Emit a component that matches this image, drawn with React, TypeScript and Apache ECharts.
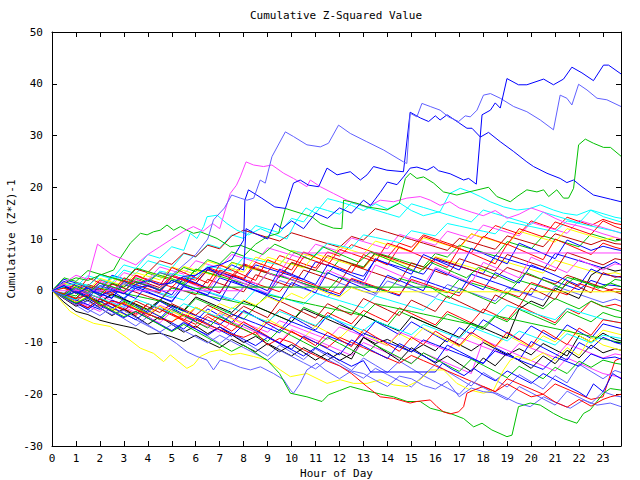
import React, { useEffect, useRef } from "react";
import * as echarts from "echarts";

const TITLE = "Cumulative Z-Squared Value";
const X_NAME = "Hour of Day";
const Y_NAME = "Cumulative (Z*Z)-1";
const X_MIN = 0;
const X_MAX = 23.75;
const Y_MIN = -30;
const Y_MAX = 50;

const COLORS: Record<string, string> = {
  red: "#ff0000",
  green: "#00c000",
  blue: "#0000ff",
  magenta: "#ff40ff",
  cyan: "#00ffff",
  darkred: "#c00000",
  yellow: "#ffff00",
  black: "#000000",
  lightblue: "#6060ff",
};

// half-hour sample times (last sample at 23:45)
const HALF_HOURS: number[] = [
  0, 0.5, 1, 1.5, 2, 2.5, 3, 3.5, 4, 4.5, 5, 5.5, 6, 6.5, 7, 7.5,
  8, 8.5, 9, 9.5, 10, 10.5, 11, 11.5, 12, 12.5, 13, 13.5, 14, 14.5, 15, 15.5,
  16, 16.5, 17, 17.5, 18, 18.5, 19, 19.5, 20, 20.5, 21, 21.5, 22, 22.5, 23, 23.5,
  23.75,
];

// ---- bundle series: values at HALF_HOURS ----
const b01 = [0,1.2,0.5,-0.3,2.1,1.4,0.6,3.0, 2.2,1.5,0.7,2.8,2.0,4.5,3.7,2.9, 5.2,4.4,3.6,6.8,6.0,5.2,4.4,7.5, 6.7,8.9,8.1,7.3,6.5,9.2,8.4,10.8, 10.0,9.2,8.4,11.0,10.2,12.6,11.8,11.0, 13.5,12.7,11.9,14.2,13.4,12.6,13.8,13.0, 12.8];
const b02 = [0,-0.7,-1.4,0.8,0.1,2.6,1.9,1.2, 3.4,2.7,2.0,1.3,4.1,3.4,2.7,5.5, 4.8,4.1,3.4,2.7,5.3,4.6,3.9,3.2, 6.0,5.3,4.6,7.4,6.7,6.0,5.3,4.6, 7.2,6.5,8.8,8.1,7.4,6.7,9.5,8.8, 8.1,10.6,9.9,9.2,8.5,11.0,10.3,9.6, 9.8];
const b03 = [0,2.2,1.5,0.8,0.1,3.0,2.3,1.6, 0.9,0.2,2.8,2.1,1.4,4.2,3.5,2.8, 2.1,5.0,4.3,3.6,2.9,2.2,5.6,4.9, 4.2,3.5,2.8,6.0,5.3,4.6,3.9,3.2, 6.1,5.4,4.7,4.0,3.3,6.8,6.1,5.4, 4.7,4.0,7.2,6.5,5.8,5.1,4.4,5.6, 5.0];
const b04 = [0,0.8,0.1,-0.6,1.8,1.1,3.5,2.8, 2.1,4.6,3.9,3.2,5.8,5.1,4.4,7.0, 6.3,5.6,8.3,7.6,6.9,6.2,9.0,8.3, 7.6,10.2,9.5,8.8,8.1,10.9,10.2,9.5, 8.8,11.5,10.8,10.1,12.7,12.0,11.3,10.6, 13.2,12.5,11.8,11.1,13.6,12.9,12.2,11.5, 11.1];
const b05 = [0,1.5,0.8,2.9,2.2,1.5,4.0,3.3, 5.8,5.1,4.4,7.2,6.5,9.0,8.3,10.8, 10.1,12.6,11.9,11.2,14.0,13.3,16.2,15.5, 14.8,17.0,16.3,15.6,14.9,14.2,16.8,16.1, 15.4,14.7,14.0,13.3,15.6,14.9,14.2,13.5, 12.8,15.2,14.5,13.8,13.1,15.6,14.9,14.2, 14.0];
const b06 = [0,-0.6,1.6,0.9,3.2,2.5,1.8,4.2, 3.5,5.8,5.1,7.3,6.6,8.8,8.1,10.6, 11.7,11.0,10.3,9.6,11.2,10.5,9.8,9.1, 8.4,10.5,9.8,12.0,11.3,10.6,9.9,9.2, 8.5,7.8,10.1,9.4,8.7,8.0,10.6,9.9, 9.2,8.5,11.0,10.3,9.6,8.9,9.8,9.1, 9.0];
const b07 = [0,-1.0,1.2,0.5,-0.2,2.4,1.7,1.0, 3.6,2.9,2.2,4.7,4.0,3.3,2.6,5.4, 4.7,4.0,6.5,5.8,5.1,4.4,7.1,6.4, 5.7,5.0,4.3,6.9,6.2,5.5,4.8,4.1, 6.6,5.9,5.2,4.5,3.8,6.2,5.5,4.8, 4.1,3.4,5.9,5.2,4.5,3.8,3.1,3.5, 3.2];
const b08 = [0,-2.2,-4.0,-4.6,-5.7,-6.3,-6.8,-7.3, -8.4,-8.2,-8.9,-9.8,-8.6,-9.9,-11.0,-9.4, -10.6,-11.8,-10.2,-11.4,-12.6,-11.0,-12.2,-13.4, -12.0,-13.2,-9.0,-10.2,-9.4,-10.6,-11.8,-10.4, -11.6,-9.2,-10.4,-11.6,-10.0,-11.2,-12.4,-11.2, -12.4,-10.2,-11.4,-12.6,-8.7,-9.9,-8.2,-9.4, -9.7];
const b09 = [0,-0.8,-1.6,0.6,-0.2,-1.0,-1.8,1.0, 0.2,-0.6,-1.4,1.3,0.5,-0.3,-1.1,-1.9, 0.8,0.0,-0.8,2.0,1.2,0.4,-0.4,-1.2, 1.5,0.7,-0.1,-0.9,1.9,1.1,0.3,-0.5, -1.3,1.2,0.4,-0.4,-1.2,-2.0,0.6,-0.2, -1.0,-1.8,0.9,0.1,-0.7,-1.5,-2.3,-1.6, -2.0];
const b10 = [0,-1.1,-2.2,-3.3,-1.5,-2.6,-3.7,-4.8, -2.5,-3.6,-4.7,-5.8,-3.2,-4.3,-5.4,-6.5, -4.0,-5.1,-6.2,-3.6,-4.7,-5.8,-6.9,-4.2, -5.3,-6.4,-3.8,-4.9,-6.0,-3.3,-4.4,-5.5, -6.6,-4.0,-5.1,-6.2,-3.5,-4.6,-5.7,-2.9, -4.0,-5.1,-6.2,-3.4,-4.5,-2.0,-3.1,-2.6, -3.0];
const b11 = [0,0.6,-0.4,-1.4,-2.4,-0.8,-1.8,-2.8, -3.8,-2.0,-3.0,-4.0,-1.5,-2.5,-3.5,-4.5, -5.5,-3.0,-4.0,-5.0,-6.0,-3.2,-4.2,-5.2, -2.8,-3.8,-4.8,-5.8,-6.8,-4.0,-5.0,-6.0, -7.0,-4.5,-5.5,-6.5,-7.5,-5.0,-6.0,-3.6, -4.6,-5.6,-6.6,-4.0,-5.0,-6.0,-4.2,-5.0, -5.2];
const b12 = [0,-1.3,0.5,-0.8,-2.1,-3.4,-1.6,-2.9, -4.2,-2.0,-3.3,-4.6,-5.9,-3.5,-4.8,-6.1, -3.8,-5.1,-6.4,-7.7,-5.0,-6.3,-7.6,-4.8, -6.1,-7.4,-8.7,-5.9,-7.2,-8.5,-6.0,-7.3, -8.6,-9.9,-7.1,-8.4,-5.6,-6.9,-8.2,-9.5, -6.8,-8.1,-9.4,-6.6,-7.9,-9.2,-6.4,-7.0, -7.3];
const b13 = [0,-0.9,-1.8,-2.7,-1.0,-1.9,-2.8,-3.7, -4.6,-2.8,-3.7,-4.6,-5.5,-6.4,-4.4,-5.3, -6.2,-7.1,-8.0,-5.8,-6.7,-7.6,-8.5,-9.4, -7.0,-7.9,-8.8,-9.7,-10.6,-8.0,-8.9,-9.8, -10.7,-11.6,-9.0,-9.9,-10.8,-11.7,-12.6,-10.2, -11.1,-12.0,-12.9,-10.3,-11.2,-12.1,-13.0,-12.2, -12.4];
const b14 = [0,-0.7,1.4,0.7,0.0,-0.7,-1.4,1.0, 0.3,-0.4,-1.1,-1.8,0.5,-0.2,-0.9,-1.6, -2.3,0.2,-0.5,-1.2,-1.9,-2.6,-0.5,-1.2, -1.9,-2.6,-3.3,-1.0,-1.7,-2.4,-3.1,-3.8, -1.5,-2.2,-2.9,-3.6,-4.3,-5.0,-2.8,-3.5, -4.2,-4.9,-5.6,-3.4,-4.1,-4.8,-5.5,-6.0, -6.2];
const b15 = [0,1.0,0.2,-0.6,-1.4,1.3,0.5,-0.3, -1.1,-1.9,0.8,0.0,-0.8,2.2,1.4,0.6, -0.2,3.1,2.3,1.5,0.7,4.0,3.2,2.4, 1.6,5.0,4.2,3.4,2.6,1.8,5.4,4.6, 3.8,3.0,6.2,5.4,4.6,3.8,7.0,6.2, 5.4,4.6,3.8,7.4,6.6,5.8,5.0,6.2, 6.0];
const b16 = [0,-1.2,-2.4,-1.0,-2.2,-3.4,-4.6,-2.5, -3.7,-4.9,-6.1,-4.0,-5.2,-6.4,-4.2,-5.4, -6.6,-7.8,-5.5,-6.7,-7.9,-9.1,-6.8,-8.0, -9.2,-7.0,-8.2,-9.4,-10.6,-8.3,-9.5,-7.2, -8.4,-9.6,-10.8,-8.5,-9.7,-10.9,-8.6,-9.8, -11.0,-8.7,-9.9,-7.5,-8.7,-9.9,-7.6,-8.2, -8.5];
const b17 = [0,0.8,-0.2,-1.2,-2.2,-0.6,-1.6,-2.6, -3.6,-1.8,-2.8,-3.8,-1.2,-2.2,-3.2,-4.2, -2.0,-3.0,-4.0,-5.0,-6.0,-3.5,-4.5,-5.5, -6.5,-7.5,-4.8,-5.8,-6.8,-7.8,-5.0,-6.0, -7.0,-8.0,-9.0,-6.2,-7.2,-8.2,-9.2,-3.5, -2.0,-3.0,0.5,-0.5,-1.5,3.0,4.5,3.8, 4.0];
const b18 = [0,-1.4,-2.8,-4.2,-2.6,-4.0,-5.4,-6.8, -5.0,-6.4,-7.8,-6.0,-7.4,-8.8,-10.2,-8.4, -9.8,-11.2,-12.6,-10.5,-11.9,-13.3,-11.2,-12.6, -14.0,-15.4,-13.0,-14.4,-15.8,-13.6,-15.0,-16.4, -14.2,-15.6,-17.0,-18.4,-15.8,-17.2,-18.6,-16.2, -17.6,-19.0,-16.4,-17.8,-14.2,-15.6,-17.0,-15.4, -15.8];
const b19 = [0,-1.0,-2.0,-0.5,-1.5,-2.5,-3.5,-4.5, -2.5,-3.5,-4.5,-5.5,-6.5,-4.5,-5.5,-6.5, -7.5,-8.5,-6.0,-7.0,-8.0,-9.0,-10.0,-11.0, -9.0,-10.0,-11.0,-12.0,-13.0,-14.0,-12.5,-13.5, -14.5,-15.5,-16.5,-17.5,-18.5,-19.5,-17.0,-18.0, -19.0,-20.0,-18.0,-19.0,-20.0,-21.0,-20.5,-13.5, -13.0];
const b20 = [0,-0.5,-1.0,1.0,0.5,0.0,-0.5,-1.0, -1.5,-2.0,0.5,0.0,-0.5,-1.0,-1.5,-2.0, -2.5,-3.0,-0.8,-1.3,-1.8,-2.3,-2.8,-3.3, -3.8,-4.3,-4.8,-2.5,-3.0,-3.5,-4.0,-4.5, -5.0,-5.5,-6.0,-6.5,-7.0,-4.8,-5.3,-5.8, -6.3,-6.8,-7.3,-7.8,-8.3,-8.8,-9.3,-9.8, -10.0];
const b21 = [0,1.8,1.0,0.2,-0.6,-1.4,1.2,0.4, -0.4,-1.2,-2.0,0.8,0.0,-0.8,2.5,1.7, 0.9,0.1,-0.7,3.0,2.2,1.4,0.6,-0.2, -1.0,2.2,1.4,0.6,-0.2,-1.0,2.8,2.0, 1.2,0.4,-0.4,3.2,2.4,1.6,0.8,0.0, -0.8,2.6,1.8,1.0,0.2,2.0,1.2,1.0, 0.8];
const b22 = [0,-1.0,-2.0,-3.0,-4.0,-2.2,-3.2,-4.2, -5.2,-6.2,-4.0,-5.0,-6.0,-7.0,-8.0,-6.0, -7.0,-8.0,-9.0,-10.0,-7.5,-8.5,-9.5,-10.5, -11.5,-12.5,-10.0,-11.0,-12.0,-13.0,-14.0,-12.0, -13.0,-14.0,-15.0,-16.0,-9.5,-10.5,-11.5,-12.5, -13.5,-14.5,-15.5,-13.0,-14.0,-15.0,-16.0,-16.5, -16.8];
const b23 = [0,-0.5,1.6,1.1,0.6,2.8,2.3,1.8, 1.3,3.8,3.3,2.8,2.3,4.8,4.3,3.8, 6.5,6.0,5.5,5.0,7.8,7.3,6.8,9.2, 8.7,8.2,10.8,10.3,9.8,9.3,11.6,11.1, 10.6,13.0,12.5,12.0,11.5,11.0,13.4,12.9, 12.4,11.9,11.4,13.5,13.0,12.5,12.0,11.5, 11.2];
const b24 = [0,0.9,0.1,-0.7,1.5,0.7,-0.1,2.2, 1.4,0.6,3.0,2.2,1.4,4.0,3.2,2.4, 5.0,4.2,3.4,2.6,5.5,4.7,3.9,6.8, 6.0,5.2,4.4,7.3,6.5,5.7,4.9,4.1, 6.4,5.6,4.8,4.0,3.2,2.4,4.5,3.7, 2.9,2.1,1.3,3.0,2.2,1.4,0.6,-0.2, -0.6];
const b25 = [0,1.5,0.8,0.1,2.4,1.7,1.0,3.5, 2.8,2.1,4.6,3.9,3.2,5.7,5.0,4.3, 3.6,6.5,5.8,5.1,7.8,7.1,6.4,5.7, 8.5,7.8,7.1,9.6,8.9,8.2,7.5,10.2, 9.5,8.8,8.1,11.0,10.3,9.6,8.9,11.5, 10.8,10.1,9.4,12.0,11.3,10.6,9.9,10.3, 10.0];
const b26 = [0,-1.5,-3.0,-1.8,-3.3,-4.8,-3.5,-5.0, -6.5,-5.0,-6.5,-8.0,-6.8,-8.3,-7.0,-8.5, -10.0,-8.8,-10.3,-11.8,-10.4,-11.9,-13.4,-12.0, -13.5,-12.2,-9.0,-10.5,-12.0,-13.5,-11.0,-12.5, -14.0,-12.6,-14.1,-15.6,-13.0,-14.5,-12.0,-13.5, -15.0,-12.6,-14.1,-11.5,-13.0,-10.5,-12.0,-11.2, -11.5];
const b27 = [0,-1.2,-2.4,-3.6,-4.8,-3.2,-4.4,-5.6, -6.8,-8.0,-6.5,-7.7,-8.9,-10.1,-8.6,-9.8, -11.0,-12.2,-13.4,-11.5,-12.7,-13.9,-15.1,-13.3, -14.5,-15.7,-16.9,-15.0,-16.2,-17.4,-18.6,-16.4, -17.6,-18.8,-20.0,-17.5,-18.7,-19.9,-21.1,-18.5, -19.7,-20.9,-22.1,-19.4,-20.6,-21.8,-19.5,-20.3, -20.5];
const b28 = [0,-0.8,-1.6,1.2,0.4,-0.4,2.5,1.7, 0.9,0.1,3.0,2.2,1.4,0.6,4.0,3.2, 2.4,5.5,4.7,3.9,3.1,6.5,5.7,4.9, 8.0,7.2,6.4,5.6,9.2,8.4,7.6,10.5, 9.7,8.9,8.1,7.3,10.5,9.7,8.9,12.0, 11.2,10.4,13.3,12.5,11.7,10.9,13.5,12.4, 12.0];
const b29 = [0,2.5,1.8,3.9,3.2,2.5,1.8,4.4, 3.7,3.0,2.3,1.6,4.2,3.5,2.8,2.1, 1.4,0.7,3.5,2.8,2.1,1.4,0.7,0.0, 2.6,1.9,1.2,0.5,-0.2,2.4,1.7,1.0, 0.3,-0.4,2.2,1.5,0.8,0.1,-0.6,2.0, 1.3,0.6,-0.1,2.6,1.9,1.2,0.5,2.2, 2.0];
const b30 = [0,-0.9,-1.8,-2.7,-3.6,-1.8,-2.7,-3.6, -4.5,-5.4,-3.0,-3.9,-4.8,-5.7,-6.6,-4.5, -5.4,-6.3,-7.2,-8.1,-6.0,-6.9,-7.8,-8.7, -9.6,-10.5,-8.2,-9.1,-10.0,-10.9,-11.8,-9.5, -10.4,-11.3,-12.2,-13.1,-14.0,-11.6,-12.5,-13.4, -14.3,-15.2,-12.8,-13.7,-14.6,-12.2,-13.1,-12.8, -13.2];
const b31 = [0,-1.4,-2.8,-1.2,-2.6,-4.0,-2.2,-3.6, -5.0,-3.0,-4.4,-5.8,-7.2,-5.0,-6.4,-7.8, -6.0,-7.4,-8.8,-10.2,-7.8,-9.2,-10.6,-8.0, -9.4,-10.8,-7.5,-8.9,-10.3,-11.7,-9.0,-10.4, -7.8,-9.2,-10.6,-8.0,-9.4,-10.8,-8.0,-9.4, -10.8,-7.6,-9.0,-10.4,-7.2,-8.6,-5.6,-6.0, -6.2];
const b32 = [0,-1.0,1.5,0.5,-0.5,-1.5,1.8,0.8, -0.2,-1.2,-2.2,1.0,0.0,-1.0,-2.0,2.0, 1.0,0.0,-1.0,-2.0,1.6,0.6,-0.4,3.5, 2.5,1.5,0.5,-0.5,3.0,2.0,1.0,0.0, 4.2,3.2,2.2,1.2,0.2,3.5,2.5,1.5, 5.0,4.0,3.0,2.0,1.0,4.2,3.2,2.8, 2.6];
const b33 = [0,0.5,-0.5,2.5,1.5,0.5,-0.5,3.0, 2.0,1.0,4.5,3.5,2.5,1.5,5.0,4.0, 3.0,2.0,6.0,5.0,4.0,7.5,6.5,5.5, 4.5,3.5,7.0,6.0,5.0,8.5,7.5,6.5, 5.5,4.5,8.2,7.2,6.2,5.2,9.0,8.0, 7.0,6.0,10.0,9.0,8.0,7.0,9.2,8.4, 8.1];
const b34 = [0,-1.2,-2.4,-3.6,-2.0,-3.2,-4.4,-5.6, -3.8,-5.0,-6.2,-7.4,-5.2,-6.4,-7.6,-8.8, -6.5,-7.7,-8.9,-10.1,-11.3,-8.8,-10.0,-11.2, -12.4,-9.5,-10.7,-11.9,-13.1,-10.2,-11.4,-12.6, -13.8,-10.5,-11.7,-12.9,-14.1,-11.0,-12.2,-13.4, -9.8,-11.0,-12.2,-13.4,-10.0,-11.2,-9.0,-10.0, -10.3];
const b35 = [0,-0.9,-1.8,-0.5,-1.4,-2.3,-3.2,-1.6, -2.5,-3.4,-4.3,-2.5,-3.4,-4.3,-5.2,-3.3, -4.2,-5.1,-6.0,-4.0,-4.9,-5.8,-6.7,-5.0, -5.9,-6.8,-7.7,-5.8,-6.7,-7.6,-8.5,-6.5, -7.4,-8.3,-9.2,-7.0,-7.9,-8.8,-9.7,-7.8, -8.7,-9.6,-10.5,-8.3,-9.2,-10.1,-8.6,-9.0, -9.2];
const b36 = [0,-1.1,-2.2,-3.3,-1.6,-2.7,-3.8,-2.0, -3.1,-4.2,-2.5,-3.6,-4.7,-2.8,-3.9,-5.0, -3.0,-4.1,-5.2,-2.0,-3.1,-4.2,-5.3,-2.5, -3.6,-4.7,-1.5,-2.6,-3.7,-4.8,-1.8,-2.9, -4.0,-1.0,-2.1,-3.2,-4.3,-0.8,-1.9,-3.0, 0.5,-0.6,-1.7,1.8,0.7,-0.4,3.5,2.6, 2.8];
const b37 = [0,1.0,0.0,-1.0,1.5,0.5,-0.5,-1.5, 1.2,0.2,-0.8,2.5,1.5,0.5,-0.5,3.0, 2.0,1.0,0.0,4.2,3.2,2.2,1.2,5.0, 4.0,3.0,2.0,6.2,5.2,4.2,3.2,7.0, 6.0,5.0,4.0,8.2,7.2,6.2,5.2,9.2, 8.2,7.2,6.2,9.8,8.8,7.8,8.6,8.0, 7.8];
const b38 = [0,-1.2,-0.2,-1.4,-2.6,-3.8,-2.0,-3.2, -4.4,-5.6,-3.6,-4.8,-6.0,-7.2,-5.0,-6.2, -7.4,-8.6,-9.8,-7.5,-8.7,-9.9,-11.1,-9.0, -10.2,-11.4,-12.6,-10.5,-11.7,-12.9,-14.1,-12.0, -13.2,-14.4,-15.6,-13.2,-14.4,-15.6,-16.8,-14.6, -15.8,-17.0,-14.8,-16.0,-13.6,-14.8,-13.4,-14.0, -14.2];
const b39 = [0,1.2,0.2,-0.8,1.6,0.6,-0.4,2.2, 1.2,0.2,3.0,2.0,1.0,0.0,3.5,2.5, 1.5,0.5,-0.5,3.2,2.2,1.2,0.2,4.0, 3.0,2.0,1.0,5.0,4.0,3.0,2.0,1.0, 4.5,3.5,2.5,1.5,5.5,4.5,3.5,2.5, 6.5,5.5,4.5,3.5,6.0,5.0,4.0,5.2, 5.0];
const b40 = [0,-0.6,1.6,0.8,0.0,-0.8,2.0,1.2, 0.4,-0.4,2.8,2.0,1.2,0.4,-0.4,3.0, 2.2,1.4,0.6,-0.2,2.6,1.8,1.0,0.2, -0.6,2.4,1.6,0.8,0.0,-0.8,2.2,1.4, 0.6,-0.2,-1.0,2.0,1.2,0.4,-0.4,-1.2, 1.6,0.8,0.0,-0.8,1.4,0.6,-0.2,0.4, 0.2];

// ---- distinctive series: [hour, value, hour, value, ...] ----
const topBlue = [0,0, 0.5,1, 1,-0.5, 1.5,0.5, 2,-1, 2.5,0, 3,-1.5, 3.5,0.5, 4,1, 4.5,0, 5,2, 5.5,1, 6,3, 6.5,4.5, 7,3, 7.5,5, 8,4, 8.1,12, 8.5,11, 9,10, 9.3,13, 9.6,12, 10,13.5, 10.5,12, 11,15, 11.5,14, 12,16, 12.5,15, 13,17.5, 13.3,16.5, 13.7,19, 14,21, 14.4,20.5, 14.67,22, 14.95,23.7, 15.23,23.9, 15.65,23.3, 15.93,24, 16.13,23.2, 16.62,22.6, 17.18,21.4, 17.39,21.7, 17.71,20.6, 17.95,34, 18.3,34.9, 18.5,36.3, 18.71,35.3, 18.99,41, 19.47,39.8, 19.82,39.8, 20.52,40.9, 20.93,39.8, 21.35,40.9, 21.7,43.2, 22.12,42.1, 22.6,40.6, 23.02,43.6, 23.23,43.6, 23.75,41.9];
const blueJump = [0,0, 0.5,-1, 1,-0.2, 1.5,-1.4, 2,1, 2.5,0.2, 3,-0.6, 3.5,1.2, 4,2, 4.5,1.2, 5,1.5, 5.5,2.8, 6,3, 6.5,4.4, 7,5, 7.5,6, 8,9.8, 8.05,17.5, 8.2,19.5, 8.75,17.9, 9.3,16.2, 9.74,15.9, 10.08,20.8, 10.36,21.4, 10.71,20.4, 11.13,20.1, 11.48,23.7, 11.9,22.4, 12.45,23, 12.87,21.4, 13.15,22.4, 13.42,24, 13.98,23.3, 14.67,23, 14.95,34.5, 15.37,33.4, 15.72,32.7, 16,33.8, 16.2,33, 16.49,34, 16.97,32.5, 17.32,31.4, 17.53,31.4, 17.88,29.7, 18.22,30.6, 18.71,28.8, 19.27,26.9, 19.82,24.9, 20.1,24, 20.66,22.7, 21.21,21.7, 21.49,20.9, 21.77,21.4, 22.12,20.1, 22.6,18.5, 23.31,17.7, 23.75,17.2];
const lightBlueTop = [0,0, 0.5,-1, 1,0.5, 1.5,-0.5, 2,1, 2.5,0, 3,1.5, 3.5,0.5, 4,2, 4.5,3.5, 5,3, 5.5,5, 6,7, 6.5,10, 6.74,13.7, 7.2,16, 7.5,18.5, 7.86,17.9, 8.14,17.5, 8.42,17.9, 8.69,21.4, 8.9,20.8, 9.18,25.9, 9.74,30.7, 10.08,29.8, 10.64,28.2, 11.2,27.8, 11.54,28.5, 11.96,32, 12.45,30.4, 13.14,28.8, 13.84,27.2, 14.67,24.9, 14.81,24.6, 14.95,34.3, 15.23,33.6, 15.44,36.2, 15.79,35.6, 16.2,34.9, 16.55,33.6, 16.97,32.7, 17.25,33.8, 17.46,33.6, 17.74,34.9, 18.01,37.8, 18.3,38.1, 18.71,37.2, 19.27,35.6, 19.82,34.6, 20.38,33, 20.93,31.1, 21.21,37.8, 21.49,37.2, 21.7,35.9, 21.98,39.9, 22.33,38.8, 22.75,37.2, 23.16,36.9, 23.75,35.6];
const greenHigh = [0,0, 0.5,-0.8, 1,0.8, 1.5,0, 2,-0.8, 2.5,1.5, 3,0.7, 3.5,2.5, 4,1.7, 4.5,3.5, 5,2.7, 5.5,4.5, 6,3.7, 6.5,6, 7,5.2, 7.5,7.5, 8,6.7, 8.5,9, 9,10.5, 9.46,11.1, 9.74,15.9, 10.36,15, 10.85,14.3, 11.2,13, 11.75,12.1, 12.1,12, 12.17,17.5, 12.73,16.9, 13.15,16.2, 13.98,15.6, 14.5,16.9, 14.75,21.7, 14.95,22.7, 15.23,21.7, 15.51,22, 15.93,20.8, 16.34,19.1, 16.9,18.5, 17.5,19.2, 18.22,20, 18.57,18.2, 19.13,17.2, 19.41,18.2, 19.82,19.5, 20.24,19.1, 20.52,19.5, 20.73,18.2, 21.07,19.5, 21.35,17.9, 21.56,17.9, 21.77,19.8, 21.98,28.2, 22.26,29.3, 22.6,28.5, 23.02,27.7, 23.31,27.7, 23.75,26];
const magentaPeak = [0,0, 0.5,1.5, 1,3, 1.5,2.2, 1.9,9, 2.2,8, 2.5,7, 3,6, 3.5,5, 4,7, 4.5,8.5, 5,10, 5.5,11.5, 5.9,12.4, 6.3,11.5, 6.7,13, 7,12, 7.44,18.8, 7.7,20.4, 7.86,22, 8.1,24.9, 8.41,24.3, 8.83,24, 9.18,24.3, 9.67,22.7, 10.08,21.7, 10.64,20.1, 10.78,21.4, 11.2,20.1, 11.75,18.8, 12.31,17.5, 12.87,16.6, 13.15,16.2, 13.7,17.5, 14.26,17.2, 14.81,17.9, 15.37,18.2, 15.79,17.5, 16.2,16.5, 16.6,17.2, 17,16, 17.5,15.2, 18,14.5, 18.5,15.5, 19,14, 19.5,14.8, 20,16, 20.5,15.2, 21,14, 21.5,13, 22,12.5, 22.5,11.8, 23,11, 23.75,10];
const greenEarly = [0,0, 0.5,1.5, 1,2.5, 1.5,2, 2,3, 2.57,4, 2.85,6.3, 3.27,9.2, 3.69,11.1, 3.97,10.8, 4.24,11.4, 4.52,11.7, 4.8,12.7, 5.08,11.7, 5.36,12.4, 5.63,11.7, 5.91,11.1, 6.19,11.4, 6.89,10.1, 7.44,8.5, 7.86,8.8, 8.3,8, 8.8,7, 9.3,9, 9.8,8, 10.3,7, 10.8,6, 11.3,8.5, 11.8,7.5, 12.3,6.5, 12.8,5.5, 13.3,7.5, 13.8,6.5, 14.3,5.5, 14.8,4.5, 15.3,3.5, 15.8,5.5, 16.3,4.5, 16.8,3.5, 17.3,2.5, 17.8,4.5, 18.3,3.5, 18.8,2.5, 19.3,1.5, 19.8,3.5, 20.3,2.5, 20.8,1.5, 21.3,0.5, 21.8,2.5, 22.3,1.5, 22.8,0.5, 23.3,1.5, 23.75,0.8];
const cyanHigh = [0,0, 0.5,0.8, 1,1.5, 1.5,0.9, 2,3, 2.5,2.3, 3,5, 3.5,4.3, 4,7, 4.5,6.3, 5,8.5, 5.5,7.8, 5.77,11.1, 6.05,10.1, 6.33,12.4, 6.47,14.3, 6.89,14.6, 7.3,13, 7.72,11.7, 8.2,10.8, 8.7,12, 9.2,11, 9.8,10, 10.2,13.5, 10.6,16, 11,15, 11.5,17.8, 12,17.2, 12.5,16.5, 13,15.5, 13.5,16.8, 14,15.8, 14.5,17, 15,15.5, 15.5,14.5, 16.2,15.3, 16.6,18.8, 17.04,19.8, 17.46,19.1, 17.88,18.2, 18.29,17.2, 18.85,16.2, 19.41,15.6, 19.96,15.9, 20.38,16.6, 20.93,15.6, 21.35,15, 21.91,14.6, 22.47,15.6, 23.02,14.3, 23.75,13.3];
const yellowLow = [0,0, 0.76,-4, 1.2,-5.2, 1.74,-6.3, 2.43,-6.9, 3.1,-9, 3.69,-11.1, 4.24,-12.1, 4.66,-13.7, 4.94,-12.4, 5.63,-15, 5.91,-14.3, 6.19,-12.7, 6.6,-11.8, 7.02,-11.4, 7.44,-12.4, 7.86,-12.1, 8.41,-12.7, 8.97,-13.4, 9.53,-15.3, 9.95,-16.6, 10.64,-16, 11.48,-17.9, 12.03,-17.2, 12.59,-17.9, 13.15,-17.9, 13.7,-17.2, 14.26,-18.2, 14.82,-18.5, 15.37,-17.2, 15.79,-15.3, 16.34,-15.3, 16.9,-17.9, 17.46,-19.2, 18.01,-19.8, 18.43,-19.2, 18.85,-15.3, 19.13,-13.4, 19.41,-12.7, 20,-13.5, 20.5,-12, 21,-13.5, 21.5,-11, 22,-12.5, 22.5,-9, 23,-10.5, 23.75,-11.5];
const lightBlueLow = [0,0, 0.5,-1.4, 1,-2.8, 1.5,-2, 2,-3.4, 2.5,-4.6, 3,-3.8, 3.5,-5.2, 4,-6.6, 4.5,-8, 5.2,-10.2, 5.63,-11.8, 6.05,-12.7, 6.47,-13.4, 6.74,-15.3, 7.02,-13.4, 7.44,-14, 7.86,-14.8, 8.28,-15.3, 8.7,-14.7, 9.25,-16, 9.67,-17.2, 9.95,-19.2, 10.08,-19.8, 10.36,-17.9, 10.64,-15.3, 11.06,-14, 11.4,-15.3, 12,-17, 12.5,-15.5, 13,-16, 13.5,-17.3, 14,-18.5, 14.5,-16.5, 15,-17, 15.5,-18.3, 16,-19, 16.5,-17.5, 17,-20.5, 17.5,-18.8, 18,-19.5, 18.57,-19.8, 19.41,-21.7, 19.96,-22.4, 20.52,-20.5, 21.07,-21.7, 21.63,-22.7, 22.19,-21.1, 22.75,-22.1, 23.3,-21.7, 23.75,-22.4];
const greenLow = [0,0, 0.5,-1.2, 1,-2.4, 1.5,-1.2, 2,-2.5, 2.5,-3.8, 3,-5, 3.5,-4, 4,-5.3, 4.5,-6.6, 5,-7.9, 5.5,-6.5, 6,-7.8, 6.5,-9.1, 7,-10.4, 7.5,-11.7, 8,-10.5, 8.5,-12, 9,-13.5, 9.5,-16, 9.95,-19.8, 10.64,-20.5, 11.27,-21.4, 11.54,-20.1, 12,-19.3, 12.45,-18.5, 13,-19.2, 13.84,-20.1, 14.26,-20.5, 14.82,-21.4, 15.37,-21.4, 15.79,-22.7, 16.62,-23.7, 17.18,-24.7, 17.6,-26.3, 17.95,-25.6, 18.36,-26.9, 18.99,-28.2, 19.2,-27.9, 19.47,-22.4, 19.96,-21.7, 20.38,-22.1, 20.93,-23.7, 21.35,-24.7, 21.91,-25.6, 22.19,-23.7, 22.47,-23, 23.02,-19.8, 23.3,-18.9, 23.75,-19.2];
const redLow = [0,0, 0.5,-0.6, 1,-1.5, 1.5,-0.8, 2,-3, 2.5,-2, 3,-2.5, 3.5,-3.6, 4,-4.5, 4.5,-5.4, 5,-6, 5.5,-4.6, 6,-5.5, 6.5,-6.6, 7,-7.5, 7.5,-8.4, 8,-9, 8.5,-8, 9,-10.5, 9.5,-9.2, 10,-10, 10.5,-11.4, 11,-12.5, 11.5,-13.6, 12,-14.5, 12.5,-16, 13.14,-18.5, 13.7,-20.5, 14.26,-20.8, 14.95,-21.7, 15.23,-21.4, 15.79,-21.1, 16.07,-22.4, 16.34,-23.4, 16.62,-23.8, 16.97,-23.4, 17.18,-22.4, 17.32,-19.8, 17.6,-19.2, 18,-18.5, 18.5,-19.5, 19,-18, 19.5,-19.3, 20,-20.5, 20.5,-20, 21,-21.5, 21.5,-22.5, 22,-21, 22.5,-22.3, 23,-21, 23.3,-20.5, 23.75,-20];
const magentaFlat = [0,0, 7.9,0, 8.2,2, 8.6,1.2, 9,3.5, 9.4,2.7, 9.8,5.5, 10.1,7.3, 23.75,7.3];
const greenFlat = [0,0, 0.5,-1, 1,0.5, 1.5,-0.5, 2,1.5, 2.5,0.8, 3,0, 3.5,1.8, 4,1, 4.5,0.2, 5,2, 5.5,1.2, 6,0.4, 6.5,0.7, 15.8,0.7, 16.2,-0.5, 16.6,-1.5, 17,0.5, 17.5,-0.5, 18,-1.5, 18.5,-2.5, 19,-0.5, 19.5,-1.5, 20,-2.5, 20.5,-3.5, 21,-1.5, 21.5,-2.5, 22,-3.5, 22.5,-2, 23,-3, 23.75,-4];
const yellowFlat = [0,0, 0.5,-1.2, 1,-2.2, 1.5,-1.5, 2,-2.7, 2.5,-3.7, 3,-2.4, 3.5,-3.5, 4,-4.5, 4.5,-3, 5,-4, 5.5,-5, 6,-3.2, 6.5,-4.2, 7,-2.5, 7.5,-3.5, 8,-1.8, 8.5,-2.8, 9,-1.2, 9.5,-2.2, 10,-0.5, 10.5,-1.5, 11,0.5, 11.5,-0.5, 12,-1.2, 12.5,0.6, 13,-0.2, 23.75,-0.2];
const blueFlat = [0,0, 0.5,-1.3, 1,-2.5, 1.5,-1.5, 2,-2.8, 2.5,-4, 3,-5.2, 3.5,-4, 4,-5.3, 4.5,-6.5, 5,-7.7, 5.5,-6.2, 6,-7.4, 6.5,-8.6, 7,-7, 7.5,-8.2, 8,-9.4, 8.5,-10.6, 9,-9, 9.5,-10.2, 10,-11.4, 10.5,-12.6, 11,-11, 11.5,-12.2, 12,-13.4, 12.5,-14.6, 13,-13.5, 13.3,-15.7, 16,-15.7, 16.3,-14, 16.7,-15.2, 17.2,-16.4, 17.6,-15, 18,-16.2, 18.5,-17.4, 19,-15.5, 19.5,-16.7, 20,-17.9, 20.5,-16, 21,-17.2, 21.5,-18.4, 22,-19.6, 22.3,-20.5, 22.6,-18, 23,-19.5, 23.4,-16, 23.75,-17];

const BUNDLE: [number[], string][] = [
  [b01, "red"], [b02, "green"], [b03, "blue"], [b04, "magenta"], [b05, "cyan"],
  [b06, "darkred"], [b07, "yellow"], [b08, "black"], [b09, "lightblue"], [b10, "red"],
  [b11, "green"], [b12, "blue"], [b13, "magenta"], [b14, "cyan"], [b15, "darkred"],
  [b16, "yellow"], [b17, "black"], [b18, "lightblue"], [b19, "red"], [b20, "green"],
  [b21, "blue"], [b22, "magenta"], [b23, "cyan"], [b24, "darkred"], [b25, "yellow"],
  [b26, "black"], [b27, "lightblue"], [b28, "red"], [b29, "green"], [b30, "blue"],
  [b31, "red"], [b32, "blue"], [b33, "red"], [b34, "blue"], [b35, "cyan"],
  [b36, "darkred"], [b37, "blue"], [b38, "green"], [b39, "magenta"], [b40, "red"],
];

const DISTINCT: [number[], string][] = [
  [magentaFlat, "magenta"], [greenFlat, "green"], [yellowFlat, "yellow"], [blueFlat, "blue"],
  [greenEarly, "green"], [cyanHigh, "cyan"], [magentaPeak, "magenta"],
  [yellowLow, "yellow"], [lightBlueLow, "lightblue"], [greenLow, "green"], [redLow, "red"],
  [greenHigh, "green"], [blueJump, "blue"], [lightBlueTop, "lightblue"], [topBlue, "blue"],
];

function gridPairs(vals: number[]): [number, number][] {
  return vals.map((v, i) => [HALF_HOURS[i], v] as [number, number]);
}
function flatPairs(flat: number[]): [number, number][] {
  const out: [number, number][] = [];
  for (let i = 0; i + 1 < flat.length; i += 2) out.push([flat[i], flat[i + 1]]);
  return out;
}

const FONT = "DejaVu Sans Mono";

export default function App() {
  const ref = useRef<HTMLDivElement>(null);
  useEffect(() => {
    if (!ref.current) return;
    const chart = echarts.init(ref.current, undefined, { renderer: "svg" });
    const mk = (data: [number, number][], color: string) => ({
      type: "line",
      data,
      showSymbol: false,
      symbol: "none",
      silent: true,
      lineStyle: { width: 1, color: COLORS[color] },
      itemStyle: { color: COLORS[color] },
    });
    const series = [
      ...BUNDLE.map(([v, c]) => mk(gridPairs(v), c)),
      ...DISTINCT.map(([v, c]) => mk(flatPairs(v), c)),
    ];
    const axisCommon = {
      axisLine: { show: true, onZero: false, lineStyle: { color: "#000", width: 1 } },
      axisTick: { show: true, inside: true, length: 5, lineStyle: { color: "#000" } },
      splitLine: { show: false },
    };
    chart.setOption({
      animation: false,
      backgroundColor: "#ffffff",
      grid: {
        left: 52,
        right: 19,
        top: 32,
        bottom: 34,
        containLabel: false,
        outerBoundsMode: "none",
      },
      graphic: [
        {
          type: "text",
          x: 336,
          y: 15,
          style: {
            text: TITLE,
            fontFamily: FONT,
            fontSize: 11,
            fill: "#000",
            textAlign: "center",
            textVerticalAlign: "middle",
          },
        },
      ],
      xAxis: [
        {
          type: "value",
          min: X_MIN,
          max: X_MAX,
          interval: 1,
          position: "bottom",
          name: X_NAME,
          nameLocation: "middle",
          nameGap: 22,
          nameMoveOverlap: false,
          nameTextStyle: { fontFamily: FONT, fontSize: 11, color: "#000" },
          axisLabel: {
            margin: 7,
            fontFamily: FONT,
            fontSize: 11,
            color: "#000",
            formatter: (v: number) => (Number.isInteger(v) ? String(v) : ""),
          },
          ...axisCommon,
        },
        {
          type: "value",
          min: X_MIN,
          max: X_MAX,
          interval: 1,
          position: "top",
          axisLabel: { show: false },
          ...axisCommon,
        },
      ],
      yAxis: [
        {
          type: "value",
          min: Y_MIN,
          max: Y_MAX,
          interval: 10,
          position: "left",
          name: Y_NAME,
          nameLocation: "middle",
          nameRotate: 90,
          nameGap: 35,
          nameMoveOverlap: false,
          nameTextStyle: { fontFamily: FONT, fontSize: 11, color: "#000" },
          axisLabel: { margin: 9, fontFamily: FONT, fontSize: 11, color: "#000" },
          ...axisCommon,
        },
        {
          type: "value",
          min: Y_MIN,
          max: Y_MAX,
          interval: 10,
          position: "right",
          axisLabel: { show: false },
          ...axisCommon,
        },
      ],
      series,
    });
    return () => chart.dispose();
  }, []);
  return (
    <div
      ref={ref}
      style={{ position: "fixed", left: 0, top: 0, width: 640, height: 480, background: "#fff" }}
    />
  );
}
